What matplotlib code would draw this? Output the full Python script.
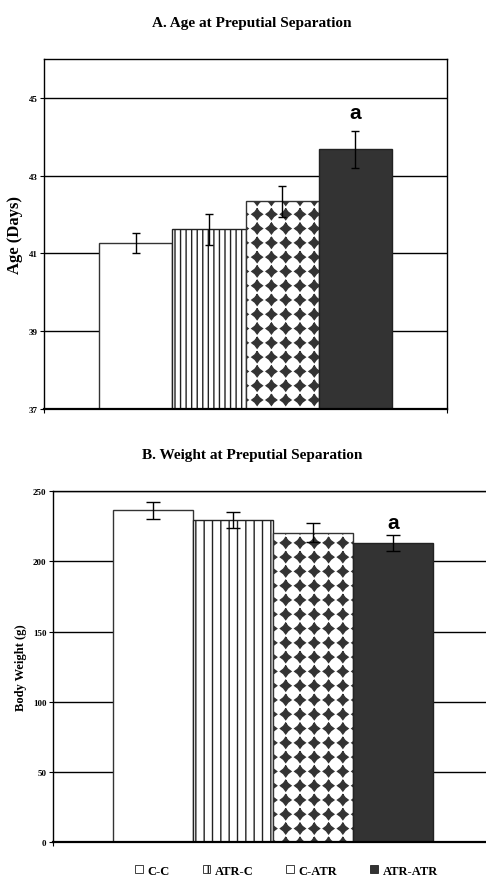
import matplotlib
matplotlib.use('Agg')
import matplotlib.pyplot as plt
import matplotlib.hatch as mhatch
from matplotlib.path import Path
from matplotlib.patches import Patch
import numpy as np

groups = ['C-C', 'ATR-C', 'C-ATR', 'ATR-ATR']
age_mean = [41.27, 41.62, 42.34, 43.68]
age_err = [0.25, 0.40, 0.40, 0.47]
weight_mean = [236.5, 229.8, 220.5, 213.2]
weight_err = [6.2, 5.6, 6.7, 6.0]
sig = ['', '', '', 'a']


# diamond grid fill (replaces the staggered star hatch '*')
class DiamondGrid(mhatch.Shapes):
    size = 0.37
    filled = True

    def __init__(self, hatch, density):
        self.num_rows = hatch.count('*') * 7
        star = Path.unit_regular_star(4, innerCircle=0.6)
        self.shape_vertices = star.vertices
        self.shape_codes = np.full(len(self.shape_vertices), Path.LINETO, dtype=Path.code_type)
        self.shape_codes[0] = Path.MOVETO
        super().__init__(hatch, density)
        if self.num_rows:
            self.num_shapes = (self.num_rows + 1) ** 2
            self.num_vertices = self.num_shapes * len(self.shape_vertices)

    def set_vertices_and_codes(self, vertices, codes):
        step = 1.0 / self.num_rows
        shape = self.shape_vertices * step * self.size
        n = len(shape)
        k = 0
        for r in range(self.num_rows + 1):
            for c in range(self.num_rows + 1):
                vertices[k:k + n] = shape + [c * step, r * step]
                codes[k:k + n] = self.shape_codes
                k += n


mhatch._hatch_types = [DiamondGrid if t is mhatch.Stars else t for t in mhatch._hatch_types]

plt.rcParams['font.family'] = ['Liberation Serif', 'DejaVu Serif']
plt.rcParams['font.weight'] = 'bold'
plt.rcParams['hatch.linewidth'] = 1.0

fills = ['white', 'white', 'white', '#333333']
edges = ['#333333', '#222222', '#333333', '#222222']

fig = plt.figure(figsize=(4.86, 8.78), dpi=100)


def panel(rect, means, errs, ticks, ylim, stripe, capsize, a_off, title, title_xy, ylabel, ylab_size):
    ax = fig.add_axes(rect)
    x = np.arange(len(means))
    hatches = ['', stripe, '*', '']
    ax.bar(x, means, width=1.0, color=fills, edgecolor=edges, hatch=hatches,
           linewidth=1.0, zorder=2)
    ax.errorbar(x, means, yerr=errs, fmt='none', ecolor='black', elinewidth=1.0,
                capsize=capsize, capthick=1.0, zorder=3)
    for xi, m, e, s in zip(x, means, errs, sig):
        if s:
            ax.annotate(s, (xi, m + e), xytext=(0, a_off), textcoords='offset points',
                        ha='center', va='baseline', fontsize=15, fontweight='bold',
                        family='Liberation Sans')
    ax.set_xlim(-1.25, 4.25)
    ax.set_ylim(*ylim)
    ax.set_yticks(ticks)
    ax.set_yticklabels([str(t) for t in ticks], fontsize=6.5, fontweight='bold')
    ax.set_xticks([-1.25, 4.25])
    ax.set_xticklabels([])
    ax.tick_params(axis='y', direction='out', length=3, width=0.8, pad=2)
    ax.tick_params(axis='x', direction='out', length=3, width=0.8)
    ax.set_axisbelow(True)
    ax.yaxis.grid(True, color='black', linewidth=1.0)
    for sp in ax.spines.values():
        sp.set_linewidth(1.0)
        sp.set_color('black')
    ax.spines['bottom'].set_linewidth(1.6)
    ax.set_ylabel(ylabel, fontsize=ylab_size, fontweight='bold', labelpad=4)
    fig.text(title_xy[0], title_xy[1], title, ha='center', va='center',
             fontsize=11, fontweight='bold')
    return ax


ax1 = panel([0.0912, 0.533, 0.828, 0.3986], age_mean, age_err, [37, 39, 41, 43, 45],
            (37, 46), '|||', 3, 9, 'A. Age at Preputial Separation',
            (251.5 / 486, 1 - 23.5 / 878), 'Age (Days)', 12)

ax2 = panel([0.1097, 0.0395, 0.905, 0.3998], weight_mean, weight_err, [0, 50, 100, 150, 200, 250],
            (0, 250), '||', 5, 5, 'B. Weight at Preputial Separation',
            (252.6 / 486, 1 - 455.5 / 878), 'Body Weight (g)', 9)

handles = [Patch(facecolor=fills[i], edgecolor='#222222', linewidth=0.6,
                 hatch=['', '|', '', ''][i]) for i in range(4)]
fig.legend(handles, groups, ncol=4, loc='center', bbox_to_anchor=(286.5 / 486, 1 - 871.7 / 878),
           frameon=False, prop={'size': 9, 'weight': 'bold'}, handlelength=0.6,
           handleheight=0.6, handletextpad=0.4, columnspacing=2.6, borderpad=0, borderaxespad=0)

fig.savefig('out.png', dpi=100)
